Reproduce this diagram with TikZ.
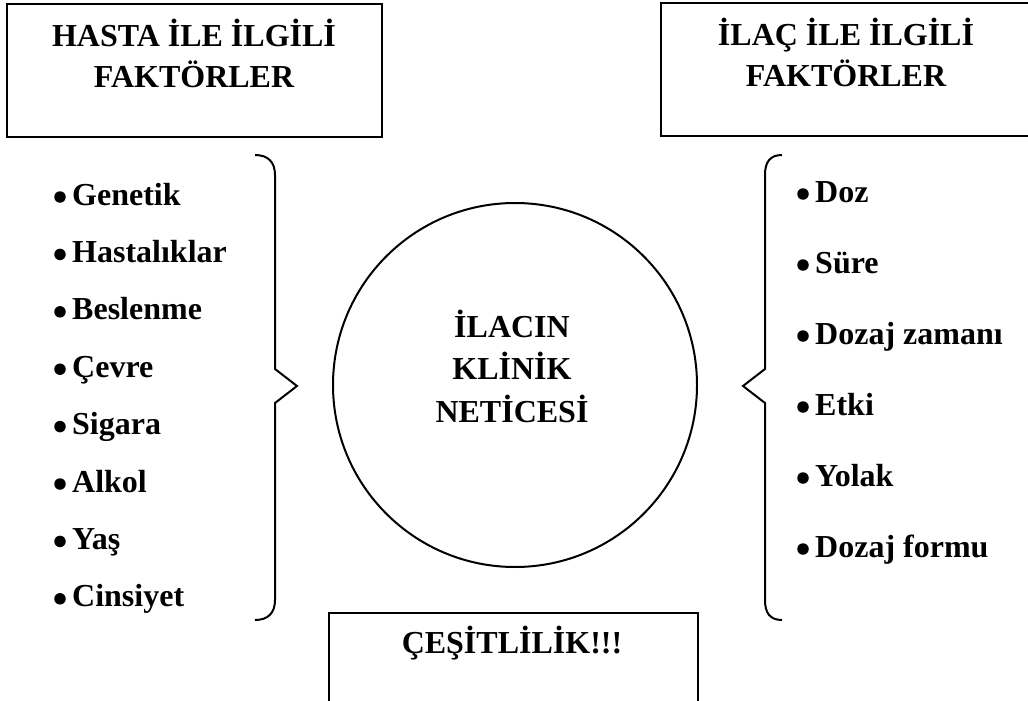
\documentclass[tikz,border=0pt]{standalone}
\usepackage{fontspec}
\setmainfont{Liberation Serif}
\begin{document}
\begin{tikzpicture}[x=1pt,y=-1pt,
  lbl/.style={font=\fontsize{32}{41}\selectfont\bfseries, inner sep=0, anchor=base west},
  ttl/.style={font=\fontsize{32}{41}\selectfont\bfseries, align=center, inner sep=0, anchor=base},
  dot/.style={circle, fill=black, inner sep=0, minimum size=11.5pt},
  frame/.style={draw=black, line width=2.5pt, rectangle, inner sep=0},
  brace/.style={draw=black, line width=2pt, line join=miter}]
\useasboundingbox (0,0) rectangle (1028,701);

% boxes
\node[frame, minimum width=375pt, minimum height=133pt] (hbox) at (194.5,70.5) {};
\node[frame, minimum width=371pt, minimum height=133pt] (ibox) at (846.5,69.5) {};
\node[frame, minimum width=369pt, minimum height=97pt] (cbox) at (513.5,661.5) {};

% titles (anchor base = last line's baseline)
\node[ttl] (htitle) at (194,88) {HASTA İLE İLGİLİ\\FAKTÖRLER};
\node[ttl] (ititle) at (846,87) {İLAÇ İLE İLGİLİ\\FAKTÖRLER};
\node[ttl] (ctitle) at (512,653) {ÇEŞİTLİLİK!!!};

% circle
\node[draw=black, line width=2pt, circle, minimum size=364pt, inner sep=0] (res) at (515,385) {};
\node[ttl, font=\fontsize{32}{42.5}\selectfont\bfseries] (restext) at (512,422) {İLACIN\\KLİNİK\\NETİCESİ};

% braces
\draw[brace] (255,155) .. controls (268,155) and (275,162) .. (275,175) -- (275,369) -- (297,386) -- (275,403) -- (275,600) .. controls (275,613) and (268,620) .. (255,620);
\draw[brace] (782,155) .. controls (770,155) and (765,162) .. (765,175) -- (765,369) -- (743,386) -- (765,403) -- (765,600) .. controls (765,613) and (770,620) .. (782,620);

% left list
\foreach \t [count=\i] in {Genetik,Hastalıklar,Beslenme,Çevre,Sigara,Alkol,Yaş,Cinsiyet}{
  \node[dot] (ld\i) at (60,{205+57.4*(\i-1)-8}) {};
  \node[lbl] (l\i) at (72,{205+57.4*(\i-1)}) {\t};
}
% right list
\foreach \t [count=\i] in {Doz,Süre,Dozaj zamanı,Etki,Yolak,Dozaj formu}{
  \node[dot] (rd\i) at (803,{202+71*(\i-1)-8}) {};
  \node[lbl] (r\i) at (815,{202+71*(\i-1)}) {\t};
}
\end{tikzpicture}
\end{document}
